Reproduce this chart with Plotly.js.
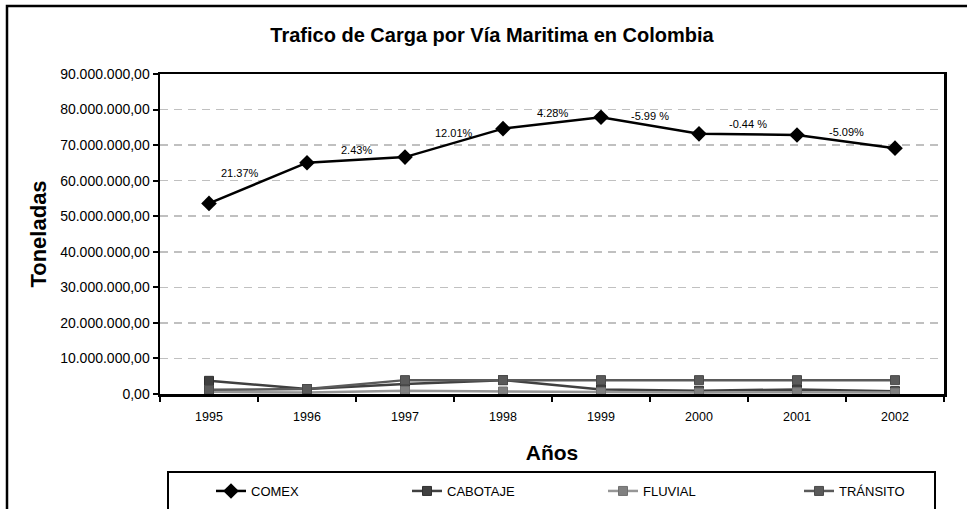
<!DOCTYPE html>
<html>
<head>
<meta charset="utf-8">
<script src="https://cdn.plot.ly/plotly-3.0.1.min.js"></script>
<style>html,body{margin:0;padding:0;background:#fff;}#chart{width:967px;height:509px;}</style>
</head>
<body>
<div id="chart"></div>
<script>
const years = ['1995','1996','1997','1998','1999','2000','2001','2002'];
const comex = [53600000, 65050000, 66630000, 74630000, 77830000, 73170000, 72850000, 69140000];
const cabotaje = [3700000, 1400000, 2800000, 3900000, 1300000, 900000, 1300000, 800000];
const fluvial = [600000, 400000, 900000, 700000, 500000, 400000, 500000, 400000];
const transito = [1200000, 1400000, 3900000, 3900000, 3900000, 3900000, 3900000, 3900000];
const growthLabels = ['21.37%', '2.43%', '12.01%', '4.28%', '-5.99 %', '-0.44 %', '-5.09%'];

const font = 'Arial, "Liberation Sans", sans-serif';

const traces = [
  {name:'COMEX', x:years, y:comex, type:'scatter', mode:'lines+markers',
   line:{color:'#000000', width:2.5}, marker:{symbol:'diamond', size:12, color:'#000000'}},
  {name:'CABOTAJE', x:years, y:cabotaje, type:'scatter', mode:'lines+markers',
   line:{color:'#404040', width:2.5}, marker:{symbol:'square', size:9, color:'#404040', line:{color:'#303030', width:1}}},
  {name:'FLUVIAL', x:years, y:fluvial, type:'scatter', mode:'lines+markers',
   line:{color:'#969696', width:2.5}, marker:{symbol:'square', size:9, color:'#808080', line:{color:'#707070', width:1}}},
  {name:'TRÁNSITO', x:years, y:transito, type:'scatter', mode:'lines+markers',
   line:{color:'#5a5a5a', width:2.5}, marker:{symbol:'square', size:9, color:'#5a5a5a', line:{color:'#4a4a4a', width:1}}}
];

const annotations = growthLabels.map((t, i) => ({
  x: i + 0.5, y: (comex[i] + comex[i+1]) / 2, xref:'x', yref:'y',
  text: t, showarrow:false, yshift: 10, xshift: i === 0 ? -18 : 0,
  font:{family:font, size:11, color:'#000'}
}));

const layout = {
  width:967, height:509,
  margin:{l:160, r:23, t:74, b:115, autoexpand:false},
  paper_bgcolor:'#ffffff', plot_bgcolor:'#ffffff',
  separators:',.',
  showlegend:true,
  font:{family:font, color:'#000'},
  title:{text:'<b>Trafico de Carga por Vía Maritima en Colombia</b>', x:492/967, xanchor:'center',
         y:1-35/509, yanchor:'middle', yref:'container', font:{family:font, size:20, color:'#000'}},
  xaxis:{type:'category', range:[-0.5, 7.5], tickson:'boundaries', ticks:'outside', ticklen:5, tickwidth:2,
         tickcolor:'#000', showline:true, linecolor:'#000', linewidth:2.5, mirror:true, showgrid:false,
         automargin:false, ticklabelstandoff:9,
         tickfont:{family:font, size:12.5, color:'#000'},
         title:{text:'<b>Años</b>', font:{family:font, size:21, color:'#000'}, standoff:23}},
  yaxis:{range:[0, 90000000], dtick:10000000, tickformat:',.2f', ticks:'outside', ticklen:5, tickwidth:2,
         tickcolor:'#000', showline:true, linecolor:'#000', linewidth:2.5, mirror:true, automargin:false,
         showgrid:true, gridcolor:'#c0c0c0', gridwidth:1.5, griddash:'8px,6px', zeroline:false,
         tickfont:{family:font, size:14, color:'#000'},
         title:{text:'<b>Toneladas</b>', font:{family:font, size:22, color:'#000'}, standoff:8}},
  legend:{orientation:'h', x:51/784, xanchor:'left', y:(394-476)/320, yanchor:'top',
          entrywidth:151, entrywidthmode:'pixels', bgcolor:'rgba(0,0,0,0)', borderwidth:0,
          font:{family:font, size:13, color:'#000'}},
  annotations: annotations,
  shapes:[
    {type:'rect', xref:'paper', yref:'paper', x0:(7-160)/784, x1:(990-160)/784, y0:(394-530)/320, y1:(394-6)/320,
     line:{color:'#000', width:2.5}, fillcolor:'rgba(0,0,0,0)', layer:'below'},
    {type:'rect', xref:'paper', yref:'paper', x0:(168-160)/784, x1:(935-160)/784, y0:(394-530)/320, y1:(394-472)/320,
     line:{color:'#000', width:2}, fillcolor:'rgba(0,0,0,0)', layer:'below'}
  ]
};

Plotly.newPlot('chart', traces, layout, {displayModeBar:false, staticPlot:true});
</script>
</body>
</html>
